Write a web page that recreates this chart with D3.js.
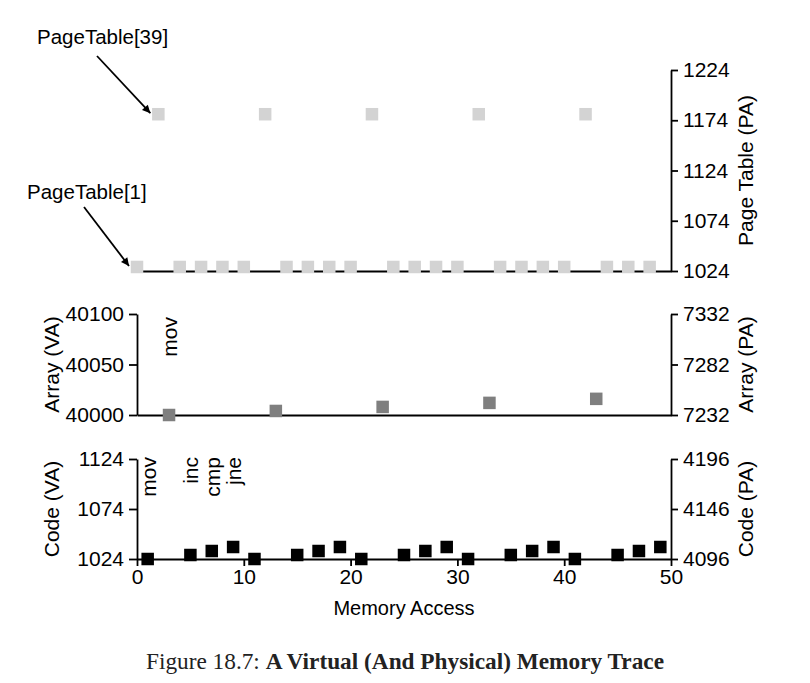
<!DOCTYPE html>
<html><head><meta charset="utf-8">
<script src="https://cdn.jsdelivr.net/npm/d3@7"></script>
<style>
body{margin:0;background:#fff;}
svg{display:block;}
</style></head>
<body>
<svg id="chart" width="810" height="683"></svg>
<script>
// ---------- data ----------
const pageTableX    = [0,2,4,6,8,10,12,14,16,18,20,22,24,26,28,30,32,34,36,38,40,42,44,46,48];
const pageTablePA   = [1028,1180,1028,1028,1028,1028,1180,1028,1028,1028,1028,1180,1028,1028,1028,1028,1180,1028,1028,1028,1028,1180,1028,1028,1028];
const arrayX        = [3,13,23,33,43];
const arrayVA       = [40000,40004,40008,40012,40016];
const codeX         = [1,5,7,9,11,15,17,19,21,25,27,29,31,35,37,39,41,45,47,49];
const codeVA        = [1024,1028,1032,1036,1024,1028,1032,1036,1024,1028,1032,1036,1024,1028,1032,1036,1024,1028,1032,1036];
const codeLabels    = ["mov","inc","cmp","jne"];
const codeLabelX    = [1,5,7,9];
const arrayLabels   = ["mov"];
const arrayLabelX   = [3];
const xTicks        = [0,10,20,30,40,50];
const ptTicks       = [1024,1074,1124,1174,1224];
const arrVATicks    = [40000,40050,40100];
const arrPATicks    = [7232,7282,7332];
const codeVATicks   = [1024,1074,1124];
const codePATicks   = [4096,4146,4196];
const annotations   = ["PageTable[39]","PageTable[1]"];

// ---------- layout ----------
const svg = d3.select("#chart");
const FONT = "'Liberation Sans', Arial, Helvetica, sans-serif";
const TICK_FS = 21;
const x = d3.scaleLinear().domain([0,50]).range([137,671]);
const yPT = d3.scaleLinear().domain([1024,1224]).range([271,70]);
const yArr = d3.scaleLinear().domain([40000,40100]).range([415,314]);
const yArrPA = d3.scaleLinear().domain([7232,7332]).range([415,314]);
const yCode = d3.scaleLinear().domain([1024,1124]).range([559,459]);
const yCodePA = d3.scaleLinear().domain([4096,4196]).range([559,459]);

svg.append("defs").append("marker")
  .attr("id","arrow").attr("viewBox","0 0 10 10").attr("refX",10).attr("refY",5)
  .attr("markerWidth",10).attr("markerHeight",8).attr("markerUnits","userSpaceOnUse")
  .attr("orient","auto")
  .append("path").attr("d","M0,0 L10,5 L0,10 z").attr("fill","#000");

function styleAxis(g){
  g.selectAll("path,line").attr("stroke","#000").attr("stroke-width",1.8);
  g.selectAll("text").attr("font-family",FONT).attr("font-size",TICK_FS).attr("fill","#000");
  g.attr("font-family",null).attr("font-size",null);
}

// baselines
[[yPT,1024],[yArr,40000]].forEach(([ys,v])=>{
  const g = svg.append("g").attr("transform",`translate(0,${ys(v)})`)
    .call(d3.axisBottom(x).tickValues([]).tickSizeOuter(0));
  styleAxis(g);
});
const gx = svg.append("g").attr("transform",`translate(0,${yCode(1024)})`)
  .call(d3.axisBottom(x).tickValues(xTicks).tickSize(7).tickSizeOuter(0).tickPadding(3));
styleAxis(gx);

// right axes
function rightAxis(scale, ticks){
  const g = svg.append("g").attr("transform",`translate(${x(50)},0)`)
    .call(d3.axisRight(scale).tickValues(ticks).tickSize(7).tickSizeOuter(0).tickPadding(5).tickFormat(d3.format("d")));
  styleAxis(g);
}
function leftAxis(scale, ticks){
  const g = svg.append("g").attr("transform",`translate(${x(0)},0)`)
    .call(d3.axisLeft(scale).tickValues(ticks).tickSize(8).tickSizeOuter(0).tickPadding(5).tickFormat(d3.format("d")));
  styleAxis(g);
}
rightAxis(yPT, ptTicks);
rightAxis(yArrPA, arrPATicks);
rightAxis(yCodePA, codePATicks);
leftAxis(yArr, arrVATicks);
leftAxis(yCode, codeVATicks);

// axis titles
function vTitle(txt, cx, cy){
  svg.append("text").attr("transform",`translate(${cx},${cy}) rotate(-90)`)
    .attr("text-anchor","middle").attr("font-family",FONT).attr("font-size",21).text(txt);
}
vTitle("Page Table (PA)", 753, (yPT(1024)+yPT(1224))/2);
vTitle("Array (PA)", 753, (yArr(40000)+yArr(40100))/2);
vTitle("Code (PA)", 753, (yCode(1024)+yCode(1124))/2);
vTitle("Array (VA)", 59, (yArr(40000)+yArr(40100))/2);
vTitle("Code (VA)", 59, (yCode(1024)+yCode(1124))/2);
svg.append("text").attr("x",(x(0)+x(50))/2).attr("y",615).attr("text-anchor","middle")
  .attr("font-family",FONT).attr("font-size",20).text("Memory Access");

// marks
const S = 12.5;
svg.append("g").selectAll("rect").data(pageTableX).join("rect")
  .attr("x",(d)=>x(d)-S/2).attr("y",(d,i)=>yPT(pageTablePA[i])-S/2)
  .attr("width",S).attr("height",S).attr("fill","#d3d3d3");
svg.append("g").selectAll("rect").data(arrayX).join("rect")
  .attr("x",(d)=>x(d)-S/2).attr("y",(d,i)=>yArr(arrayVA[i])-S/2)
  .attr("width",S).attr("height",S).attr("fill","#7f7f7f");
svg.append("g").selectAll("rect").data(codeX).join("rect")
  .attr("x",(d)=>x(d)-S/2).attr("y",(d,i)=>yCode(codeVA[i])-S/2)
  .attr("width",S).attr("height",S).attr("fill","#000");

// instruction labels
function instLabels(labels, xs, top){
  svg.append("g").selectAll("text").data(labels).join("text")
    .attr("transform",(d,i)=>`translate(${x(xs[i])+8},${top}) rotate(-90)`)
    .attr("text-anchor","end").attr("font-family",FONT).attr("font-size",21).text(d=>d);
}
instLabels(arrayLabels, arrayLabelX, 317);
instLabels(codeLabels, codeLabelX, 457);

// annotations
svg.append("text").attr("x",37).attr("y",44).attr("font-family",FONT).attr("font-size",20.5).text(annotations[0]);
svg.append("line").attr("x1",97).attr("y1",56).attr("x2",x(2)-8).attr("y2",yPT(1180)-1)
  .attr("stroke","#000").attr("stroke-width",1.8).attr("marker-end","url(#arrow)");
svg.append("text").attr("x",27).attr("y",199).attr("font-family",FONT).attr("font-size",20.5).text(annotations[1]);
svg.append("line").attr("x1",84).attr("y1",207).attr("x2",x(0)-8).attr("y2",yPT(1028)-1)
  .attr("stroke","#000").attr("stroke-width",1.8).attr("marker-end","url(#arrow)");

// caption
const cap = svg.append("text").attr("x",405).attr("y",669).attr("text-anchor","middle")
  .attr("font-family","'Liberation Serif','Times New Roman',serif").attr("font-size",23.3).attr("fill","#222");
cap.append("tspan").text("Figure 18.7: ");
cap.append("tspan").attr("font-weight","bold").text("A Virtual (And Physical) Memory Trace");
</script>
</body></html>
